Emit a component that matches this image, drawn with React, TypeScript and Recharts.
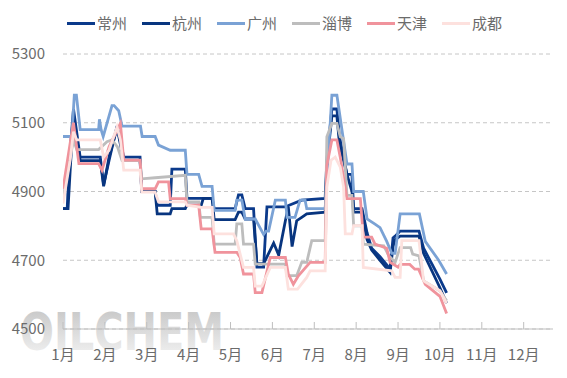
import React from 'react';
import { LineChart, Line, XAxis, YAxis, CartesianGrid } from 'recharts';

// x = months since Jan 1 (0 = 1月 start), y = price
const MONTHS = ['1月', '2月', '3月', '4月', '5月', '6月', '7月', '8月', '9月', '10月', '11月', '12月'];
const MONTH_TICKS = [0, 1, 2, 3, 4, 5, 6, 7, 8, 9, 10, 11];
const PRICE_TICKS = [4500, 4700, 4900, 5100, 5300];

const changzhou: [number, number][] = [
  [0, 4850], [0.1, 4850], [0.15, 4990], [0.25, 5140], [0.41, 5000], [0.89, 5000], [0.97, 4920], [1.1, 4990],
  [1.29, 5090], [1.45, 5000], [1.84, 5000], [1.88, 4900], [2.2, 4900], [2.25, 4860], [2.56, 4860], [2.6, 4965],
  [2.92, 4965], [2.96, 4880], [3.56, 4880], [3.61, 4850], [4.11, 4850], [4.19, 4890], [4.27, 4890], [4.35, 4850],
  [4.55, 4850], [4.63, 4680], [4.79, 4680], [4.87, 4855], [5.31, 4855], [5.4, 4860], [5.7, 4875], [6.26, 4880],
  [6.3, 4990], [6.42, 5140], [6.54, 5140], [6.6, 5060], [6.78, 4950], [6.9, 4950], [6.94, 4850], [7.14, 4850],
  [7.26, 4780], [7.37, 4735], [7.57, 4710], [7.81, 4675], [7.88, 4765], [7.93, 4770], [8.05, 4785], [8.5, 4785],
  [8.61, 4735], [9.0, 4645], [9.16, 4605],
];

const hangzhou: [number, number][] = [
  [0, 4850], [0.12, 4850], [0.18, 4980], [0.25, 5110], [0.41, 4990], [0.89, 4990], [0.97, 4915], [1.1, 5000],
  [1.29, 5085], [1.45, 4990], [1.84, 4990], [1.88, 4900], [2.2, 4900], [2.25, 4835], [2.56, 4835], [2.6, 4850],
  [2.92, 4850], [2.96, 4860], [3.3, 4860], [3.35, 4880], [3.56, 4880], [3.61, 4818], [4.11, 4818], [4.19, 4840],
  [4.27, 4840], [4.35, 4820], [4.55, 4820], [4.63, 4690], [4.79, 4690], [4.87, 4710], [5.03, 4750], [5.15, 4715],
  [5.31, 4815], [5.38, 4855], [5.47, 4740], [5.58, 4815], [5.7, 4825], [5.82, 4835], [6.26, 4840], [6.3, 4980],
  [6.42, 5120], [6.54, 5120], [6.6, 5040], [6.78, 4950], [6.9, 4900], [6.94, 4840], [7.14, 4840], [7.26, 4760],
  [7.37, 4730], [7.57, 4700], [7.81, 4665], [7.88, 4740], [7.93, 4760], [8.05, 4770], [8.5, 4770], [8.61, 4720],
  [9.0, 4620], [9.16, 4575],
];

const guangzhou: [number, number][] = [
  [0, 5060], [0.21, 5060], [0.27, 5180], [0.32, 5180], [0.41, 5080], [0.85, 5080], [0.87, 5110], [0.91, 5080],
  [0.96, 5060], [1.17, 5150], [1.22, 5150], [1.33, 5135], [1.41, 5090], [1.85, 5090], [1.89, 5060], [2.2, 5060],
  [2.28, 5035], [2.56, 5020], [2.92, 5020], [2.96, 4950], [3.24, 4950], [3.32, 4915], [3.56, 4915], [3.61, 4845],
  [4.11, 4845], [4.15, 4875], [4.27, 4875], [4.35, 4820], [4.59, 4820], [4.79, 4775], [4.85, 4785], [4.91, 4785],
  [5.07, 4875], [5.31, 4875], [5.35, 4825], [5.54, 4825], [5.66, 4875], [5.78, 4875], [5.82, 4850], [6.26, 4850],
  [6.42, 5180], [6.54, 5180], [6.78, 4980], [6.9, 4980], [6.94, 4900], [7.17, 4900], [7.26, 4820], [7.45, 4805],
  [7.57, 4795], [7.73, 4755], [7.85, 4720], [7.93, 4720], [8.05, 4835], [8.51, 4835], [8.65, 4755], [8.97, 4700],
  [9.16, 4660],
];

const zibo: [number, number][] = [
  [0, 4875], [0.1, 4950], [0.25, 5050], [0.33, 5022], [0.85, 5022], [1.05, 5045], [1.17, 5050], [1.3, 5030],
  [1.41, 4990], [1.84, 4990], [1.88, 4937], [2.2, 4940], [2.92, 4947], [2.96, 4870], [3.24, 4870], [3.28, 4825],
  [3.56, 4825], [3.61, 4747], [4.11, 4747], [4.15, 4806], [4.27, 4806], [4.31, 4747], [4.55, 4747], [4.59, 4689],
  [5.31, 4689], [5.35, 4655], [5.58, 4655], [5.7, 4694], [5.82, 4694], [5.94, 4757], [6.26, 4757], [6.3, 5059],
  [6.42, 5098], [6.54, 5098], [6.62, 5059], [6.7, 5054], [6.78, 4889], [6.9, 4889], [6.94, 4800], [7.14, 4800],
  [7.17, 4747], [7.66, 4742], [7.78, 4713], [7.93, 4694], [8.05, 4737], [8.3, 4737], [8.35, 4718], [8.5, 4713],
  [8.61, 4640], [9.0, 4611], [9.16, 4582],
];

const tianjin: [number, number][] = [
  [0, 4908], [0.17, 5040], [0.25, 5100], [0.38, 4981], [0.85, 4981], [0.93, 4962], [1.1, 5030], [1.37, 5098],
  [1.45, 4991], [1.84, 4991], [1.88, 4908], [2.2, 4908], [2.28, 4928], [2.52, 4928], [2.56, 4879], [2.92, 4879],
  [2.96, 4860], [3.24, 4860], [3.3, 4791], [3.56, 4791], [3.63, 4723], [4.15, 4723], [4.23, 4708], [4.31, 4660],
  [4.55, 4660], [4.59, 4606], [4.75, 4606], [4.95, 4708], [5.31, 4708], [5.38, 4660], [5.5, 4630], [5.62, 4655],
  [5.9, 4694], [6.26, 4694], [6.3, 4976], [6.42, 5050], [6.54, 5050], [6.62, 5000], [6.78, 4879], [7.1, 4879],
  [7.17, 4767], [7.37, 4767], [7.45, 4747], [7.73, 4735], [7.81, 4694], [8.0, 4680], [8.05, 4688], [8.28, 4688],
  [8.4, 4674], [8.49, 4674], [8.65, 4630], [9.0, 4595], [9.16, 4545],
];

const chengdu: [number, number][] = [
  [0, 4865], [0.17, 4991], [0.25, 5074], [0.33, 5050], [0.89, 5050], [0.97, 5000], [1.1, 5020], [1.29, 5088],
  [1.37, 5050], [1.45, 4962], [1.84, 4962], [1.88, 4898], [2.2, 4898], [2.28, 4870], [2.92, 4870], [2.96, 4860],
  [3.3, 4854], [3.56, 4854], [3.61, 4777], [4.07, 4777], [4.15, 4757], [4.31, 4679], [4.55, 4679], [4.59, 4625],
  [4.75, 4625], [4.95, 4679], [5.31, 4679], [5.38, 4616], [5.6, 4616], [5.82, 4650], [5.9, 4669], [6.26, 4669],
  [6.3, 4913], [6.4, 4991], [6.5, 5000], [6.62, 4971], [6.7, 4913], [6.74, 4777], [6.9, 4777], [6.94, 4801],
  [7.14, 4801], [7.17, 4679], [7.85, 4669], [7.93, 4650], [8.05, 4650], [8.09, 4757], [8.5, 4757], [8.61, 4640],
  [9.0, 4611], [9.16, 4575],
];

const SERIES = [
  { name: '常州', color: '#0b3a8b', data: changzhou },
  { name: '杭州', color: '#08357f', data: hangzhou },
  { name: '广州', color: '#7aa2d5', data: guangzhou },
  { name: '淄博', color: '#bdbdbd', data: zibo },
  { name: '天津', color: '#f0939c', data: tianjin },
  { name: '成都', color: '#fde1de', data: chengdu },
];

const FONT = '"Noto Sans CJK SC", "Noto Sans", sans-serif';
const TEXT_COLOR = '#6b6b6b';

// legend drawn as plain html so it doesn't eat into the plot area
const ChartLegend = () => (
  <div
    style={{
      position: 'absolute', left: 67, top: 13, display: 'flex',
      fontFamily: FONT, fontSize: 15, color: TEXT_COLOR,
    }}
  >
    {SERIES.map((s) => (
      <div key={s.name} style={{ display: 'flex', alignItems: 'center', width: 75 }}>
        <span style={{ display: 'inline-block', width: 28, height: 3, background: s.color, marginRight: 2 }} />
        <span style={{ lineHeight: '20px' }}>{s.name}</span>
      </div>
    ))}
  </div>
);

export default function App() {
  return (
    <div style={{ position: 'absolute', left: 0, top: 0, width: 567, height: 378, background: '#fff' }}>
      <svg width={567} height={378} style={{ position: 'absolute', left: 0, top: 0 }}>
        <defs>
          <linearGradient id="wm" x1="0" y1="0" x2="0" y2="1">
            <stop offset="0%" stopColor="#c2c2c2" />
            <stop offset="100%" stopColor="#f6f6f6" />
          </linearGradient>
        </defs>
        <text
          x={20}
          y={350}
          fontFamily="DejaVu Sans, sans-serif"
          fontWeight="bold"
          fontSize={52}
          textLength={204}
          lengthAdjust="spacingAndGlyphs"
          fill="url(#wm)"
        >
          OILCHEM
        </text>
      </svg>
      <div style={{ position: 'absolute', left: 0, top: 0 }}>
        <LineChart width={567} height={378} margin={{ top: 54, right: 14, left: 0, bottom: 0 }}>
          <CartesianGrid vertical={false} stroke="#c6c6c6" strokeDasharray="4 3" />
          <XAxis
            type="number"
            dataKey="x"
            domain={[0, 11.7]}
            ticks={MONTH_TICKS}
            tickFormatter={(v: number) => MONTHS[v]}
            allowDataOverflow
            height={49}
            stroke="#bfbfbf"
            tickSize={-7}
            tickMargin={27}
            tick={{ fill: TEXT_COLOR, fontSize: 15, fontFamily: FONT }}
          />
          <YAxis
            type="number"
            domain={[4500, 5300]}
            ticks={PRICE_TICKS}
            width={63}
            axisLine={false}
            tickLine={false}
            tickSize={0}
            tickMargin={18}
            tick={{ fill: TEXT_COLOR, fontSize: 15, fontFamily: FONT }}
          />
          {SERIES.map((s) => (
            <Line
              key={s.name}
              name={s.name}
              data={s.data.map(([x, y]) => ({ x, y }))}
              dataKey="y"
              type="linear"
              stroke={s.color}
              strokeWidth={2.8}
              dot={false}
              activeDot={false}
              isAnimationActive={false}
            />
          ))}
        </LineChart>
      </div>
      <ChartLegend />
    </div>
  );
}
